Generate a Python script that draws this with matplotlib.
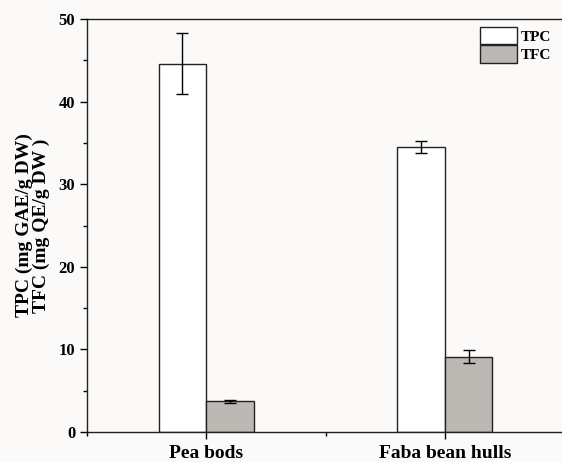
import matplotlib.pyplot as plt
import numpy as np
from matplotlib.ticker import MultipleLocator

categories = ['Pea bods', 'Faba bean hulls']
tpc = [44.6, 34.5]
tpc_err = [3.7, 0.7]
tfc = [3.7, 9.1]
tfc_err = [0.15, 0.8]

plt.rcParams['font.family'] = ['Liberation Serif', 'DejaVu Serif']
plt.rcParams['font.weight'] = 'bold'

fig = plt.figure(figsize=(5.62, 4.62), dpi=100)
fig.patch.set_facecolor('#fbfaf9')
ax = fig.add_axes([87/562, 30/462, 477/562, 413/462])
ax.set_facecolor('#fbfaf9')

x = np.arange(1, len(categories) + 1)
w = 0.2
ax.bar(x - w/2, tpc, w, yerr=tpc_err, color='white', edgecolor='#222222', lw=1,
       capsize=4, error_kw=dict(elinewidth=1, capthick=1), label='TPC')
ax.bar(x + w/2, tfc, w, yerr=tfc_err, color='#bcb9b4', edgecolor='#222222', lw=1,
       capsize=4, error_kw=dict(elinewidth=1, capthick=1), label='TFC')

ax.set_xlim(0.5, 2.5)
ax.set_ylim(0, 50)
ax.set_xticks(x)
ax.set_xticklabels(categories, fontsize=14, fontweight='bold')
ax.xaxis.set_minor_locator(MultipleLocator(0.5))
ax.yaxis.set_major_locator(MultipleLocator(10))
ax.yaxis.set_minor_locator(MultipleLocator(5))
ax.tick_params(which='both', direction='out', width=1)
ax.tick_params(which='major', length=5)
ax.tick_params(which='minor', length=3)
ax.tick_params(axis='y', labelsize=12)
ax.tick_params(axis='x', pad=4)
for lab in ax.get_yticklabels():
    lab.set_fontweight('bold')
ax.spines['right'].set_visible(False)
for s in ['left', 'bottom', 'top']:
    ax.spines[s].set_linewidth(1)
    ax.spines[s].set_color('#222222')

ax.set_ylabel('TPC (mg GAE/g DW)\nTFC (mg QE/g DW )', fontsize=14,
              fontweight='bold', labelpad=6, linespacing=1.0)

ax.legend(loc='upper right', bbox_to_anchor=(0.99, 1.0), frameon=False,
          fontsize=11, handlelength=2.4, handleheight=1.4, handletextpad=0.3,
          labelspacing=0.05, borderaxespad=0.1)

fig.savefig('out.png', dpi=100, facecolor=fig.get_facecolor())
